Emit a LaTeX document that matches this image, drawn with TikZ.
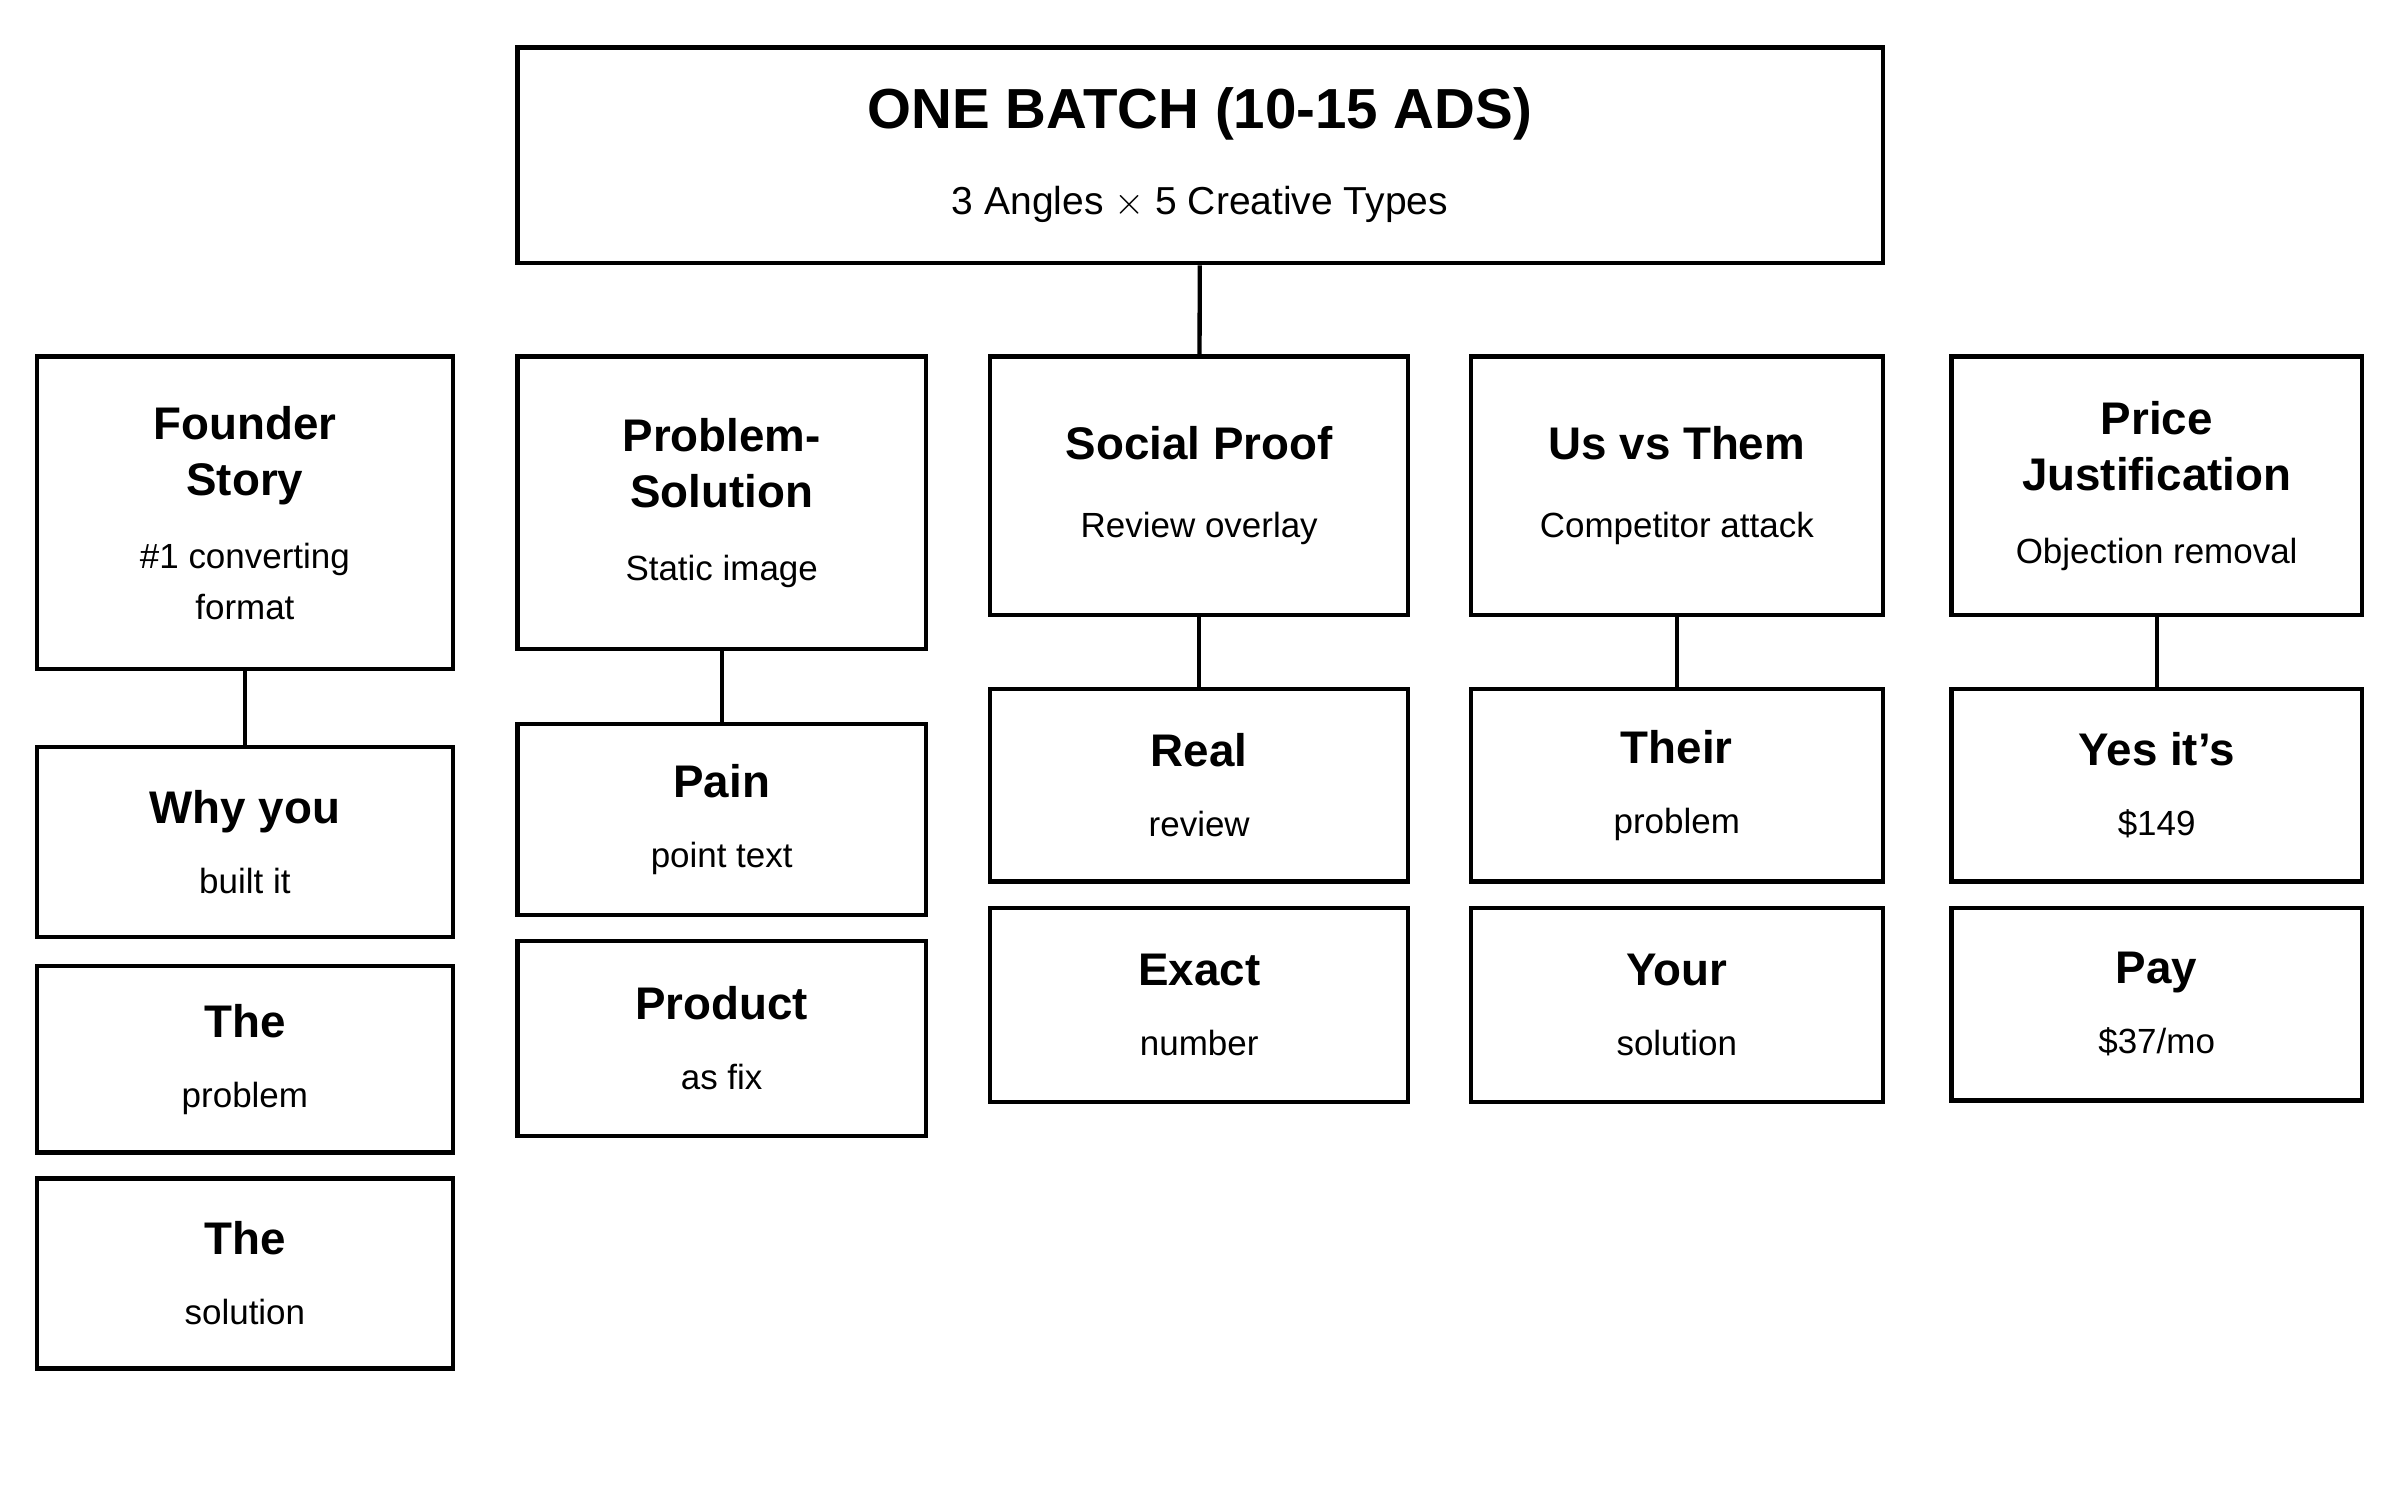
\documentclass[tikz,border=0pt]{standalone}
\usepackage{fontspec}
\setmainfont{Liberation Sans}
\usepackage{tikz}

\newcommand{\hd}[1]{{\fontsize{17}{21}\selectfont\bfseries #1}}
\newcommand{\sbt}[1]{{\fontsize{13}{21}\selectfont #1}}

\begin{document}
\begin{tikzpicture}[
        x=0.02cm, y=-0.02cm,
        box/.style={draw, line width=1.6pt, inner sep=0pt, align=center, font=\fontsize{13}{21}\selectfont},
        col/.style={box, minimum width=#1*0.02cm},
        link/.style={line width=1.6pt},
    ]
    \useasboundingbox (0,0) rectangle (1568,971.5);

    \node[box, minimum width=892*0.02cm, minimum height=141*0.02cm] (top) at (784,101.5)
        {{\fontsize{21}{26}\selectfont\bfseries ONE BATCH (10-15 ADS)}\\[11pt]{\fontsize{14.5}{21}\selectfont 3 Angles $\times$ 5 Creative Types}};

    % angles
    \node[col=272, minimum height=204*0.02cm] (founder) at (160,335)
        {\hd{Founder}\\\hd{Story}\\[6pt]\sbt{\#1 converting}\\[-2pt]\sbt{format}};
    \node[col=267, minimum height=191*0.02cm] (problem) at (471.5,328.5)
        {\hd{Problem-}\\\hd{Solution}\\[6pt]\sbt{Static image}};
    \node[col=273, minimum height=169*0.02cm] (social) at (783.5,317.5)
        {\hd{Social Proof}\\[8pt]\sbt{Review overlay}};
    \node[col=269, minimum height=169*0.02cm] (usthem) at (1095.5,317.5)
        {\hd{Us vs Them}\\[8pt]\sbt{Competitor attack}};
    \node[col=268, minimum height=169*0.02cm] (price) at (1409,317.5)
        {\hd{Price}\\\hd{Justification}\\[6pt]\sbt{Objection removal}};

    % founder story
    \node[col=272, minimum height=124*0.02cm] (founderA) at (160,550) {\hd{Why you}\\[5pt]\sbt{built it}};
    \node[col=272, minimum height=122*0.02cm] (founderB) at (160,692) {\hd{The}\\[5pt]\sbt{problem}};
    \node[col=272, minimum height=124*0.02cm] (founderC) at (160,832) {\hd{The}\\[5pt]\sbt{solution}};

    % problem-solution
    \node[col=267, minimum height=125*0.02cm] (problemA) at (471.5,535.5) {\hd{Pain}\\[5pt]\sbt{point text}};
    \node[col=267, minimum height=127*0.02cm] (problemB) at (471.5,678.5) {\hd{Product}\\[5pt]\sbt{as fix}};

    % social proof
    \node[col=273, minimum height=126*0.02cm] (socialA) at (783.5,513) {\hd{Real}\\[5pt]\sbt{review}};
    \node[col=273, minimum height=127*0.02cm] (socialB) at (783.5,656.5) {\hd{Exact}\\[5pt]\sbt{number}};

    % us vs them
    \node[col=269, minimum height=126*0.02cm] (usthemA) at (1095.5,513) {\hd{Their}\\[5pt]\sbt{problem}};
    \node[col=269, minimum height=127*0.02cm] (usthemB) at (1095.5,656.5) {\hd{Your}\\[5pt]\sbt{solution}};

    % price justification
    \node[col=268, minimum height=126*0.02cm] (priceA) at (1409,513) {\hd{Yes it’s}\\[5pt]\sbt{\$149}};
    \node[col=268, minimum height=126*0.02cm] (priceB) at (1409,656) {\hd{Pay}\\[5pt]\sbt{\$37/mo}};

    \draw[link] (top) -- (social);
    \draw[link] (founder) -- (founderA);
    \draw[link] (problem) -- (problemA);
    \draw[link] (social) -- (socialA);
    \draw[link] (usthem) -- (usthemA);
    \draw[link] (price) -- (priceA);
\end{tikzpicture}
\end{document}
